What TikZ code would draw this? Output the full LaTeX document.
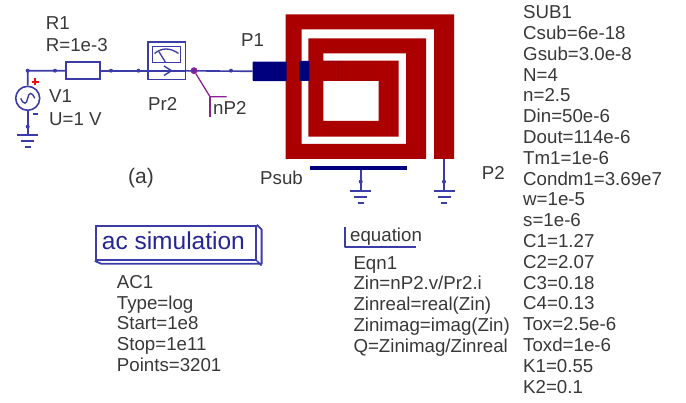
\documentclass[tikz,border=0pt]{standalone}
\usepackage{fontspec}
\setmainfont{Liberation Sans}
\definecolor{wirec}{HTML}{3C3CA6}
\definecolor{navy}{HTML}{00007F}
\definecolor{spiral}{HTML}{AA0000}
\definecolor{spiralseam}{HTML}{8E0018}
\definecolor{txt}{HTML}{383838}
\definecolor{probe}{HTML}{8E1F96}
\definecolor{plusred}{HTML}{F01010}
\tikzset{
  x=1pt,y=-1pt,
  wire/.style={draw=wirec,line width=1.6pt},
  dotj/.style={circle,fill=wirec,inner sep=0pt,minimum size=4pt},
  lbl/.style={inner sep=0pt,text=txt,font=\fontsize{18.7}{20.8}\selectfont,anchor=base west},
  blk/.style={inner sep=0pt,text=txt,font=\fontsize{18.7}{20.8}\selectfont,align=left,anchor=north west},
  part/.style={draw=wirec,line width=1.6pt,fill=white,rectangle,inner sep=0pt},
  port/.style={fill=navy,rectangle,inner sep=0pt,rounded corners=0.6pt},
  gndbar/.style={draw=wirec,line width=1.8pt},
}
\newcommand{\gnd}[1]{%
  \draw[gndbar] ([xshift=-10.5pt]#1) -- ([xshift=10.5pt]#1);
  \draw[gndbar] ([xshift=-6.5pt,yshift=-6.3pt]#1) -- ([xshift=6.5pt,yshift=-6.3pt]#1);
  \draw[gndbar] ([xshift=-3pt,yshift=-12pt]#1) -- ([xshift=3pt,yshift=-12pt]#1);
}
\begin{document}
\begin{tikzpicture}
\useasboundingbox (0,0) rectangle (686,403);
% spiral
\fill[spiral] (285.7,14.3) -- (454,14.3) -- (454,159) -- (434,159) -- (434,29.3) -- (301.7,29.3) -- (301.7,144) -- (406,144) -- (406,53.3) -- (323.3,53.3) -- (323.3,121) -- (378.7,121) -- (378.7,81) -- (323.3,81) -- (323.3,60.7) -- (398.7,60.7) -- (398.7,136.7) -- (308.3,136.7) -- (308.3,38.3) -- (426,38.3) -- (426,159) -- (285.7,159) -- cycle;
\draw[spiralseam,line width=0.5pt] (323.3,61) -- (341.7,61) -- (341.7,81);
% anchor points
\coordinate (corner) at (27.7,70.7);
\coordinate (j1) at (55,70.7);
\coordinate (j2) at (111,70.7);
\coordinate (j3) at (138.5,70.7);
\coordinate (j5) at (231,70.7);
\coordinate (g1) at (27.7,135);
\coordinate (gdot1) at (27.7,126.7);
\coordinate (g2) at (360.7,190.7);
\coordinate (gdot2) at (360.7,181.7);
\coordinate (g3) at (444,190.7);
\coordinate (gdot3) at (444,181.7);
\coordinate (p2end) at (444,159);
% parts
\node[port,minimum width=34pt,minimum height=19.5pt] (p1port) at (269.7,71.3) {};
\node[port,minimum width=10.3pt,minimum height=20pt] (p1b) at (304.2,71) {};
\node[port,rounded corners=0pt,minimum width=97.3pt,minimum height=4.6pt] (psubbar) at (358.7,168) {};
\node[circle,draw=wirec,line width=1.6pt,fill=white,minimum size=24pt,inner sep=0pt] (v1) at (27.7,98.3) {};
\node[part,minimum width=34pt,minimum height=17pt] (r1) at (83,70.8) {};
\node[part,minimum width=37.6pt,minimum height=37.3pt] (pr2) at (166.5,60.7) {};
\coordinate (pr2dot) at (194,70.7);
% wires
\draw[wire] (v1.north) -- (corner) -- (r1.west);
\draw[wire] (r1.east) -- (pr2.west |- r1.east);
\draw[wire] (pr2.east |- r1.east) -- (p1port.west);
\draw[wire] (v1.south) -- (g1);
\draw[wire] (psubbar.south -| g2) -- (g2);
\draw[wire] (p2end) -- (g3);
\foreach \c in {corner,j1,j2,j3,j5,gdot1,gdot2,gdot3} \node[dotj] at (\c) {};
\gnd{g1}
\gnd{g2}
\gnd{g3}
% source symbol
\draw[wire,line width=1.4pt] ([xshift=-7pt]v1.center) .. controls ([xshift=-4pt,yshift=-7pt]v1.center) and ([xshift=-1pt,yshift=-6pt]v1.center) .. (v1.center) .. controls ([xshift=1pt,yshift=6pt]v1.center) and ([xshift=4pt,yshift=7pt]v1.center) .. ([xshift=7pt]v1.center);
\draw[draw=plusred,line width=1.8pt] (32,81.7) -- (38.6,81.7) (35.3,78.4) -- (35.3,85);
\draw[draw=wirec,line width=1.4pt] (33.3,114) -- (38.3,114);
% probe symbol
\draw[wire] (152.3,46.7) rectangle (180.3,62.7);
\draw[wire,line width=1.3pt] (154.5,53.5) .. controls (162,47.5) and (170,47.5) .. (178.5,53.5);
\draw[wire,line width=1.3pt] (159,51.7) -- (165.7,62.7);
\draw[wire] (pr2.west |- r1.east) -- (pr2.east |- r1.east);
\draw[wire,line width=1.4pt] (164,66) -- (171.5,70.7) -- (164,75.5);
% probe label
\coordinate (labk) at (210,96.7);
\node[circle,draw=probe,line width=1.3pt,fill=wirec!60!probe,minimum size=5.5pt,inner sep=0pt] (pdot) at (pr2dot) {};
\draw[draw=probe,line width=1.3pt] (pdot) -- (labk) -- ++(16.7,0);
\draw[draw=probe,line width=1.3pt] (labk) -- ++(0,20.6);
% texts
\node[lbl] (tR1) at (45.7,30) {R1};
\node[lbl] (tR1v) at (45.7,51.7) {R=1e-3};
\node[lbl] (tV1) at (49,103) {V1};
\node[lbl] (tV1v) at (49,125.7) {U=1 V};
\node[lbl] (tPr2) at (148,111) {Pr2};
\node[lbl] (tnP2) at (213,115) {nP2};
\node[lbl] (tP1) at (241,47) {P1};
\node[lbl] (tPsub) at (260,184.3) {Psub};
\node[lbl] (tP2) at (481.7,180) {P2};
\node[lbl,font=\fontsize{21}{24}\selectfont] (ta) at (128,184) {(a)};
% simulation box
\node[inner sep=0pt,draw=wirec,line width=1.8pt,fill=white,minimum width=160.3pt,minimum height=34.3pt] (acbox) at (175.85,242.85) {};
\draw[wire,line width=1.8pt,line join=round] (acbox.north east) -- ++(4.7,4.7) -- ++(0,34.3) -- ++(-160.3,0) -- (acbox.south west);
\draw[wire] (acbox.south east) -- ++(4.7,4.7);
\node[inner sep=0pt,anchor=base west,text=navy!85!white,font=\fontsize{24.5}{28}\selectfont] (tac) at (101.7,250) {ac simulation};
\node[blk] (acparams) at (116.7,275) {AC1\\Type=log\\Start=1e8\\Stop=1e11\\Points=3201};
% equation
\node[lbl] (teq) at (350,241.7) {equation};
\coordinate (eqtop) at (345,227.3);
\coordinate (eqcorner) at (345,247.3);
\coordinate (eqend) at (416,247.3);
\draw[wire,line join=round] (eqtop) -- (eqcorner) -- (eqend);
\node[blk] (eqn) at (353.3,256) {Eqn1\\Zin=nP2.v/Pr2.i\\Zinreal=real(Zin)\\Zinimag=imag(Zin)\\Q=Zinimag/Zinreal};
% sub parameters
\node[blk] (sub) at (523,5.5) {SUB1\\Csub=6e-18\\Gsub=3.0e-8\\N=4\\n=2.5\\Din=50e-6\\Dout=114e-6\\Tm1=1e-6\\Condm1=3.69e7\\w=1e-5\\s=1e-6\\C1=1.27\\C2=2.07\\C3=0.18\\C4=0.13\\Tox=2.5e-6\\Toxd=1e-6\\K1=0.55\\K2=0.1};
\end{tikzpicture}
\end{document}
